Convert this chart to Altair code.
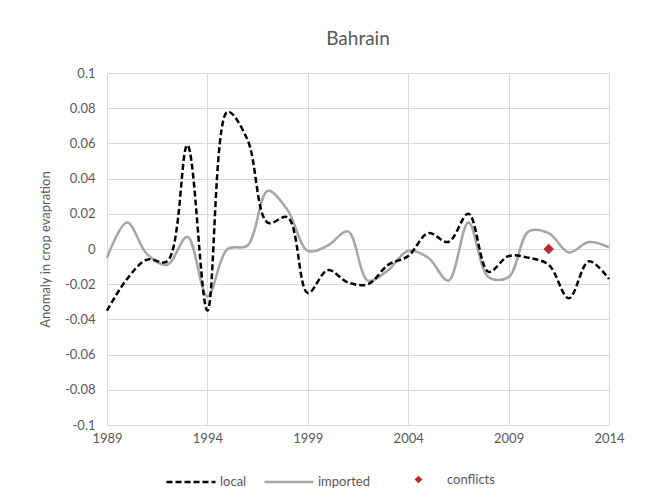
import altair as alt
import pandas as pd

years = list(range(1989, 2015))
local = [-0.035, -0.017, -0.006, -0.007, 0.059, -0.035, 0.078, 0.062, 0.015, 0.018,
         -0.025, -0.012, -0.019, -0.020, -0.009, -0.004, 0.009, 0.004, 0.020, -0.013,
         -0.004, -0.005, -0.009, -0.028, -0.007, -0.017]
imported = [-0.005, 0.015, -0.003, -0.009, 0.007, -0.027, 0.000, 0.002, 0.033, 0.022,
            -0.001, 0.002, 0.010, -0.018, -0.012, -0.001, -0.005, -0.018, 0.015, -0.016,
            -0.016, 0.010, 0.009, -0.002, 0.004, 0.001]
conflict_years = [2011]
conflict_values = [0.0]

local_df = pd.DataFrame({"year": years, "value": local, "series": "local"})
imported_df = pd.DataFrame({"year": years, "value": imported, "series": "imported"})
conf_df = pd.DataFrame({"year": conflict_years, "value": conflict_values, "series": ["conflicts"]})

FONT = "Lato"
GRAY = "#595959"

x_enc = alt.X("year:Q", scale=alt.Scale(domain=[1989, 2014], nice=False, zero=False),
              axis=alt.Axis(values=[1989, 1994, 1999, 2004, 2009, 2014], format="d", title=None,
                            domain=False, ticks=False, labelPadding=7, gridColor="#d9d9d9",
                            labelFlush=False, labelBound=False, labelOverlap=False, tickCount=6,
                            labelColor=GRAY, labelFontSize=13, labelFont=FONT))
y_enc = alt.Y("value:Q", scale=alt.Scale(domain=[-0.1, 0.1], nice=False),
              axis=alt.Axis(values=[-0.1, -0.08, -0.06, -0.04, -0.02, 0, 0.02, 0.04, 0.06, 0.08, 0.1],
                            tickCount=11,
                            labelExpr="replace(format(datum.value, '~g'), '\u2212', '-')",
                            labelOverlap=False, labelFlush=False, labelBound=False,
                            title="Anomaly in crop evapration", titleFont=FONT, titleFontSize=13,
                            titleFontWeight="normal", titleColor=GRAY, titlePadding=12,
                            domain=False, ticks=False, labelPadding=12, gridColor="#d9d9d9",
                            labelColor=GRAY, labelFontSize=13, labelFont=FONT))

def line_legend(x, dash):
    return alt.Legend(title=None, orient="none", legendX=x, legendY=383,
                      symbolType="stroke", symbolSize=2400, symbolStrokeWidth=2.5,
                      symbolDash=dash, labelFont=FONT, labelFontSize=13,
                      labelColor=GRAY, labelOffset=3)

imported_line = alt.Chart(imported_df).mark_line(interpolate="catmull-rom", strokeWidth=2.5).encode(
    x=x_enc,
    y=y_enc,
    stroke=alt.Stroke("series:N", scale=alt.Scale(domain=["imported"], range=["#a6a6a6"]),
                      legend=line_legend(156, [1, 0])),
)

local_line = alt.Chart(local_df).mark_line(interpolate="catmull-rom", strokeWidth=2.5,
                                           strokeDash=[6, 3]).encode(
    x="year:Q",
    y="value:Q",
    color=alt.Color("series:N", scale=alt.Scale(domain=["local"], range=["#000000"]),
                    legend=line_legend(58, [6, 3])),
)

points = alt.Chart(conf_df).mark_point(shape="diamond", filled=True, size=110, opacity=1).encode(
    x="year:Q",
    y="value:Q",
    fill=alt.Fill("series:N", scale=alt.Scale(domain=["conflicts"], range=["#c0262d"]),
                  legend=alt.Legend(title=None, orient="none", legendX=305, legendY=400,
                                    symbolType="diamond", symbolSize=60, labelFont=FONT,
                                    labelFontSize=13, labelColor=GRAY, labelOffset=22)),
)

chart = alt.layer(imported_line, local_line, points).properties(
    width=502, height=352,
    title=alt.TitleParams("Bahrain", font=FONT, fontSize=19, fontWeight="normal", color=GRAY, offset=18),
    padding={"left": 99, "top": 65, "right": 20, "bottom": 75},
    autosize=alt.AutoSizeParams(type="none"),
).configure_view(stroke=None).configure_axis(gridWidth=1)

chart.save("out.html", embed_options={"renderer": "svg", "actions": False})
